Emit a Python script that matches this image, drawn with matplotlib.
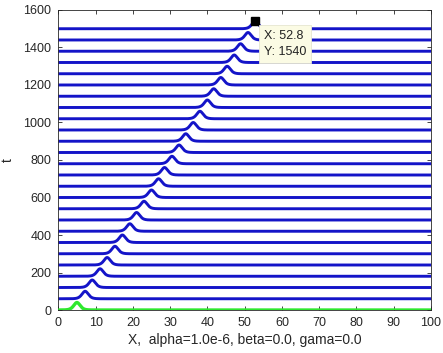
import numpy as np
import matplotlib
matplotlib.use("Agg")
import matplotlib.pyplot as plt

plt.rcParams['font.family'] = ['Liberation Sans', 'DejaVu Sans']

# time levels of each snapshot and the soliton peak position at that time
t_levels = [0, 60, 120, 180, 240, 300, 360, 420, 480, 540, 600, 660, 720,
            780, 840, 900, 960, 1020, 1080, 1140, 1200, 1260, 1320, 1380,
            1440, 1500]
peak_x = [5.0, 7.2, 9.1, 11.2, 13.1, 15.2, 17.2, 19.2, 21.0, 23.0, 25.0,
          26.9, 28.5, 30.5, 32.4, 34.2, 36.2, 38.0, 40.0, 41.7, 43.6, 45.3,
          47.2, 48.9, 50.9, 52.8]
amplitude = 40.0
width = 1.15

x_ticks = list(range(0, 101, 10))
y_ticks = list(range(0, 1601, 200))
tip_x, tip_y = 52.8, 1540

gray = '#262626'
fig = plt.figure(figsize=(4.43, 3.53), dpi=100)
ax = fig.add_axes([0.1316, 0.1218, 0.8414, 0.8499])

x = np.linspace(0, 100, 2001)
for i, (t, x0) in enumerate(zip(t_levels, peak_x)):
    profile = amplitude / np.cosh((x - x0) / width) ** 2
    if i == 0:
        ax.plot(x, t + profile, color='#2ee82e', lw=2.4, zorder=3,
                solid_capstyle='butt')
    else:
        ax.plot(x, t + profile, color='#1414c8', lw=2.1, zorder=2,
                solid_capstyle='butt')

# data tip on the last snapshot
ax.plot([tip_x], [tip_y], marker='s', ms=6, color='black', zorder=5,
        clip_on=False)
ax.annotate(f"X: {tip_x}\nY: {tip_y}", xy=(tip_x, tip_y),
            xytext=(55.2, 1418), textcoords='data', ha='left', va='center',
            fontsize=9, color='#222222', linespacing=1.45, zorder=6,
            bbox=dict(boxstyle='square,pad=0.4', fc='#fbfbe4', ec='#e6e6d0',
                      lw=0.6))

ax.set_xlim(0, 100)
ax.set_ylim(0, 1600)
ax.set_xticks(x_ticks)
ax.set_yticks(y_ticks)
ax.tick_params(direction='in', length=3, width=0.6, colors=gray,
               labelsize=9, top=True, right=True, pad=5)
for sp in ax.spines.values():
    sp.set_color(gray)
    sp.set_linewidth(0.6)

ax.set_xlabel("X,  alpha=1.0e-6, beta=0.0, gama=0.0", fontsize=10,
              color=gray, labelpad=3)
ax.set_ylabel("t", fontsize=10, color=gray, labelpad=6)

fig.savefig("out.png", dpi=100)
